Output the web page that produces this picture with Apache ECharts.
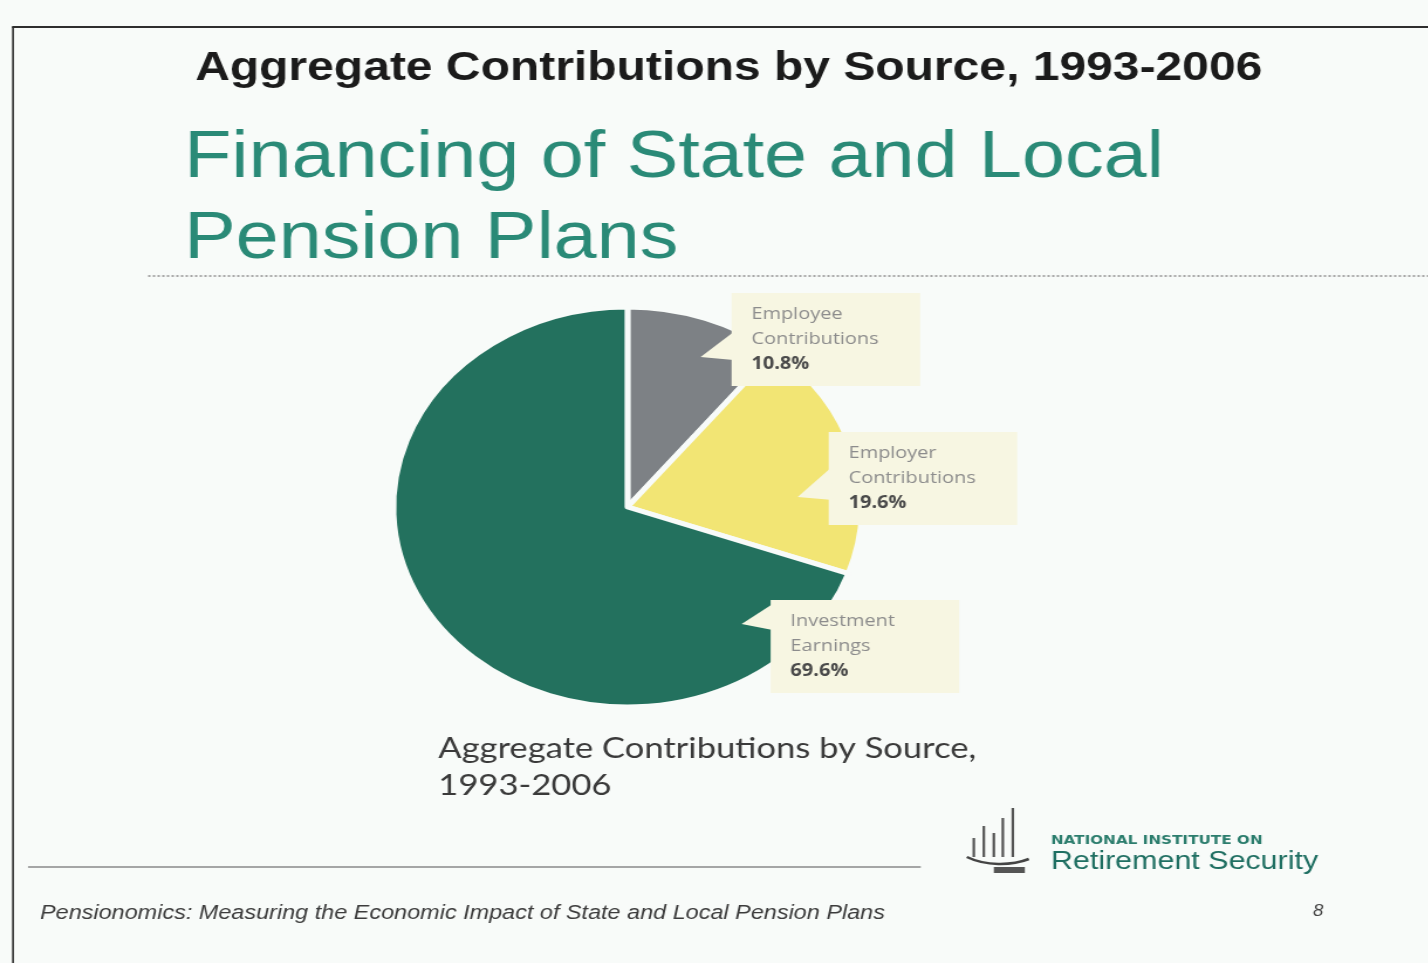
<!DOCTYPE html>
<html>
<head>
<meta charset="utf-8">
<title>Financing of State and Local Pension Plans</title>
<script src="https://cdn.jsdelivr.net/npm/echarts@6/dist/echarts.min.js"></script>
<style>
  html, body { margin: 0; padding: 0; background: #f8fbf9; overflow: hidden; }
  #chart { position: absolute; left: 0; top: 0; height: 963px; transform-origin: 0 0; }
</style>
</head>
<body>
<div id="chart"></div>
<script>
// Source shares of aggregate contributions, 1993-2006 (percent)
const categories = ['Employee Contributions', 'Employer Contributions', 'Investment Earnings'];
const shares = [10.8, 19.6, 69.6];
const sliceColors = ['#7d8185', '#f2e574', '#23715e'];

// Slide texts
const headerText = 'Aggregate Contributions by Source, 1993-2006';
const titleLines = ['Financing of State and Local', 'Pension Plans'];
const captionLines = ['Aggregate Contributions by Source,', '1993-2006'];
const footerText = 'Pensionomics: Measuring the Economic Impact of State and Local Pension Plans';
const pageNumber = '8';
const orgLines = ['NATIONAL INSTITUTE ON', 'Retirement Security'];

// The slide is drawn in a horizontally condensed space and widened by S
const S = 1.17;
const W = 1428 / S;
const X = v => v / S;

const el = document.getElementById('chart');
el.style.width = W + 'px';
el.style.transform = 'scaleX(' + S + ')';
const chart = echarts.init(el, null, { renderer: 'canvas', width: W, height: 963 });

// Callout boxes (left/top in page pixels) and their pointer triangles
const calloutBox = [[731, 293], [828, 432], [770, 600]];
const calloutPointer = [
  [[733, 332], [700, 357], [733, 360]],
  [[830, 468], [797, 497], [832, 500]],
  [[772, 604], [741, 624], [772, 630]]
];
const boxFill = '#f7f6e2';
const labelFont = '"Open Sans", Lato, sans-serif';

const graphics = [
  // slide frame
  { type: 'line', shape: { x1: X(12), y1: 27, x2: W, y2: 27 }, style: { stroke: '#2e2e2e', lineWidth: 2 } },
  { type: 'line', shape: { x1: X(13), y1: 27, x2: X(13), y2: 963 }, style: { stroke: '#2e2e2e', lineWidth: 1.6 } },
  // header
  { type: 'text', x: X(195), y: 69, style: { text: headerText, font: 'bold 41px "Liberation Sans", Arial, sans-serif', fill: '#1b1b1b', verticalAlign: 'middle' } },
  // title
  { type: 'text', x: X(184), y: 159, style: { text: titleLines[0], font: '66px "Liberation Sans", Arial, sans-serif', fill: '#2a8a77', verticalAlign: 'middle' } },
  { type: 'text', x: X(184), y: 240, style: { text: titleLines[1], font: '66px "Liberation Sans", Arial, sans-serif', fill: '#2a8a77', verticalAlign: 'middle' } },
  // dotted rule under title
  { type: 'line', shape: { x1: X(148), y1: 276, x2: W, y2: 276 }, style: { stroke: '#8c8c8c', lineWidth: 1.5, lineDash: [2, 2] } },
  // caption under pie
  { type: 'text', x: X(438), y: 748, style: { text: captionLines[0], font: '29.5px Lato, "Open Sans", sans-serif', fill: '#3a3a3a', verticalAlign: 'middle' } },
  { type: 'text', x: X(438), y: 785, style: { text: captionLines[1], font: '29.5px Lato, "Open Sans", sans-serif', fill: '#3a3a3a', verticalAlign: 'middle' } },
  // bottom rule
  { type: 'line', shape: { x1: X(28), y1: 867, x2: X(920), y2: 867 }, style: { stroke: '#8a8a8a', lineWidth: 1.5 } },
  // footer
  { type: 'text', x: X(40), y: 913, style: { text: footerText, font: 'italic 20px "Liberation Sans", Arial, sans-serif', fill: '#3c3c3c', verticalAlign: 'middle' } },
  { type: 'text', x: X(1312), y: 912, style: { text: pageNumber, font: 'italic 16px "Liberation Sans", Arial, sans-serif', fill: '#444', verticalAlign: 'middle' } },
  // organisation name
  { type: 'text', x: X(1050), y: 841, style: { text: orgLines[0], font: 'bold 13px "DejaVu Sans", sans-serif', fill: '#2b7d6d', verticalAlign: 'middle' } },
  { type: 'text', x: X(1050), y: 862, style: { text: orgLines[1], font: '26px "Liberation Sans", Arial, sans-serif', fill: '#1f6f62', verticalAlign: 'middle' } }
];

// logo: rising bars on a curved base
const logoBars = [[973, 838], [983, 826], [993, 833], [1002, 818], [1012, 808]];
logoBars.forEach(b => graphics.push({
  type: 'line', shape: { x1: X(b[0]), y1: b[1], x2: X(b[0]), y2: 857 },
  style: { stroke: '#555', lineWidth: 2.2 }
}));
graphics.push({
  type: 'bezierCurve',
  shape: { x1: X(966), y1: 857, x2: X(1028), y2: 859, cpx1: X(985), cpy1: 866, cpx2: X(1010), cpy2: 866 },
  style: { stroke: '#444', lineWidth: 2.5, fill: null }
});
graphics.push({ type: 'rect', shape: { x: X(993), y: 867, width: X(31), height: 6 }, style: { fill: '#555' } });

// callout pointers
calloutPointer.forEach(p => graphics.push({
  type: 'polygon', z: 100,
  shape: { points: p.map(q => [X(q[0]), q[1]]) },
  style: { fill: boxFill }
}));

chart.setOption({
  backgroundColor: '#f8fbf9',
  animation: false,
  graphic: { elements: graphics },
  series: [{
    type: 'pie',
    center: [X(627), 507],
    radius: 200,
    startAngle: 90,
    clockwise: true,
    color: sliceColors,
    itemStyle: { borderColor: '#f8fbf9', borderWidth: 5 },
    labelLine: { show: false },
    label: {
      show: true,
      position: 'outside',
      backgroundColor: boxFill,
      padding: [9, 18, 9, 17],
      width: 126,
      formatter: p => {
        const words = p.name.split(' ');
        return '{n|' + words[0] + '}\n{n|' + words[1] + '}\n{v|' + p.value.toFixed(1) + '%}';
      },
      rich: {
        n: { fontFamily: labelFont, fontSize: 17, color: '#8c8c8c', lineHeight: 25 },
        v: { fontFamily: labelFont, fontSize: 17, fontWeight: 'bold', color: '#4a4a4a', lineHeight: 25 }
      }
    },
    labelLayout: params => {
      const b = calloutBox[params.dataIndex];
      return { x: X(b[0]), y: b[1], align: 'left', verticalAlign: 'top' };
    },
    data: categories.map((c, i) => ({ name: c, value: shares[i] }))
  }]
});
</script>
</body>
</html>
